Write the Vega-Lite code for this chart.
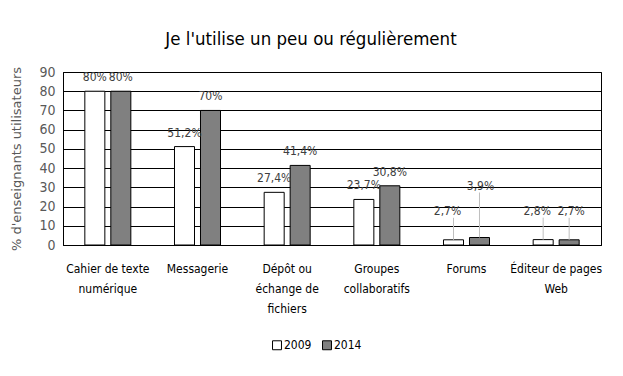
{
  "$schema": "https://vega.github.io/schema/vega-lite/v6.json",
  "width": 538,
  "height": 173,
  "autosize": "none",
  "padding": {"left": 63, "top": 72, "right": 22, "bottom": 131},
  "background": "white",
  "title": {
    "text": "Je l'utilise un peu ou régulièrement",
    "font": "DejaVu Sans Condensed",
    "fontSize": 18.5,
    "fontWeight": "normal",
    "color": "#000000",
    "anchor": "middle",
    "dx": -21,
    "offset": 17
  },
  "data": {
    "values": [
      {"cat": "Cahier de texte|numérique", "year": "2009", "value": 80, "lab": "80%"},
      {"cat": "Cahier de texte|numérique", "year": "2014", "value": 80, "lab": "80%"},
      {"cat": "Messagerie", "year": "2009", "value": 51.2, "lab": "51,2%"},
      {"cat": "Messagerie", "year": "2014", "value": 70, "lab": "70%"},
      {"cat": "Dépôt ou|échange de|fichiers", "year": "2009", "value": 27.4, "lab": "27,4%"},
      {"cat": "Dépôt ou|échange de|fichiers", "year": "2014", "value": 41.4, "lab": "41,4%"},
      {"cat": "Groupes|collaboratifs", "year": "2009", "value": 23.7, "lab": "23,7%"},
      {"cat": "Groupes|collaboratifs", "year": "2014", "value": 30.8, "lab": "30,8%"},
      {"cat": "Forums", "year": "2009", "value": 2.7, "lab": "2,7%"},
      {"cat": "Forums", "year": "2014", "value": 3.9, "lab": "3,9%"},
      {"cat": "Éditeur de pages|Web", "year": "2009", "value": 2.8, "lab": "2,8%"},
      {"cat": "Éditeur de pages|Web", "year": "2014", "value": 2.7, "lab": "2,7%"}
    ]
  },
  "encoding": {
    "x": {
      "field": "cat",
      "type": "nominal",
      "sort": null,
      "scale": {"paddingInner": 0, "paddingOuter": 0},
      "axis": {
        "title": null,
        "labelAngle": 0,
        "labelExpr": "split(datum.value, '|')",
        "labelFont": "DejaVu Sans Condensed",
        "labelFontSize": 12,
        "labelColor": "#000000",
        "labelLineHeight": 20,
        "labelPadding": 18,
        "ticks": false,
        "domain": true,
        "domainColor": "#000000",
        "labelBaseline": "top"
      }
    },
    "xOffset": {
      "field": "year",
      "type": "nominal",
      "scale": {"paddingInner": 0.23, "paddingOuter": 0.84}
    },
    "y": {
      "field": "value",
      "type": "quantitative",
      "scale": {"domain": [0, 90]},
      "axis": {
        "title": "% d'enseignants utilisateurs",
        "titleFont": "DejaVu Sans",
        "titleFontSize": 13,
        "titleFontWeight": "normal",
        "titleColor": "#595959",
        "titlePadding": 15,
        "values": [0, 10, 20, 30, 40, 50, 60, 70, 80, 90],
        "labelFont": "DejaVu Sans Condensed",
        "labelFontSize": 14,
        "labelColor": "#595959",
        "labelPadding": 8,
        "ticks": false,
        "domainColor": "#000000",
        "grid": true,
        "gridColor": "#000000",
        "gridOpacity": 1
      }
    }
  },
  "layer": [
    {
      "mark": {"type": "bar", "stroke": "#000000", "strokeWidth": 1},
      "encoding": {
        "fill": {
          "field": "year",
          "type": "nominal",
          "scale": {"domain": ["2009", "2014"], "range": ["#ffffff", "#808080"]},
          "legend": {
            "title": null,
            "orient": "none",
            "direction": "horizontal",
            "legendX": 208,
            "legendY": 267,
            "symbolType": "square",
            "symbolSize": 80,
            "symbolStrokeColor": "#000000",
            "symbolStrokeWidth": 1,
            "labelFont": "DejaVu Sans Condensed",
            "labelFontSize": 12,
            "labelColor": "#000000",
            "labelOffset": 1,
            "columnPadding": 8
          }
        }
      }
    },
    {
      "transform": [{"filter": "datum.value >= 10"}],
      "mark": {"type": "text", "baseline": "bottom", "dy": -7, "font": "DejaVu Sans Condensed", "fontSize": 12, "color": "#404040"},
      "encoding": {"text": {"field": "lab"}}
    },
    {
      "transform": [{"filter": "datum.value < 10 && datum.year == '2009'"}],
      "mark": {"type": "text", "baseline": "bottom", "dy": -22, "dx": -6, "font": "DejaVu Sans Condensed", "fontSize": 12, "color": "#404040"},
      "encoding": {"text": {"field": "lab"}}
    },
    {
      "transform": [{"filter": "datum.cat == 'Éditeur de pages|Web' && datum.year == '2014'"}],
      "mark": {"type": "text", "baseline": "bottom", "dy": -22, "dx": 2, "font": "DejaVu Sans Condensed", "fontSize": 12, "color": "#404040"},
      "encoding": {"text": {"field": "lab"}}
    },
    {
      "transform": [{"filter": "datum.cat == 'Forums' && datum.year == '2014'"}],
      "mark": {"type": "text", "baseline": "bottom", "dy": -45, "dx": 1, "font": "DejaVu Sans Condensed", "fontSize": 12, "color": "#404040"},
      "encoding": {"text": {"field": "lab"}}
    },
    {
      "transform": [{"filter": "datum.value < 10 && !(datum.cat == 'Forums' && datum.year == '2014')"}],
      "mark": {"type": "rule", "color": "#bfbfbf", "strokeWidth": 1, "y2Offset": -22},
      "encoding": {"y2": {"field": "value"}}
    },
    {
      "transform": [{"filter": "datum.cat == 'Forums' && datum.year == '2014'"}],
      "mark": {"type": "rule", "color": "#bfbfbf", "strokeWidth": 1, "y2Offset": -45},
      "encoding": {"y2": {"field": "value"}}
    }
  ],
  "config": {
    "view": {"stroke": "#000000", "strokeWidth": 1},
    "axis": {"gridWidth": 1}
  }
}
